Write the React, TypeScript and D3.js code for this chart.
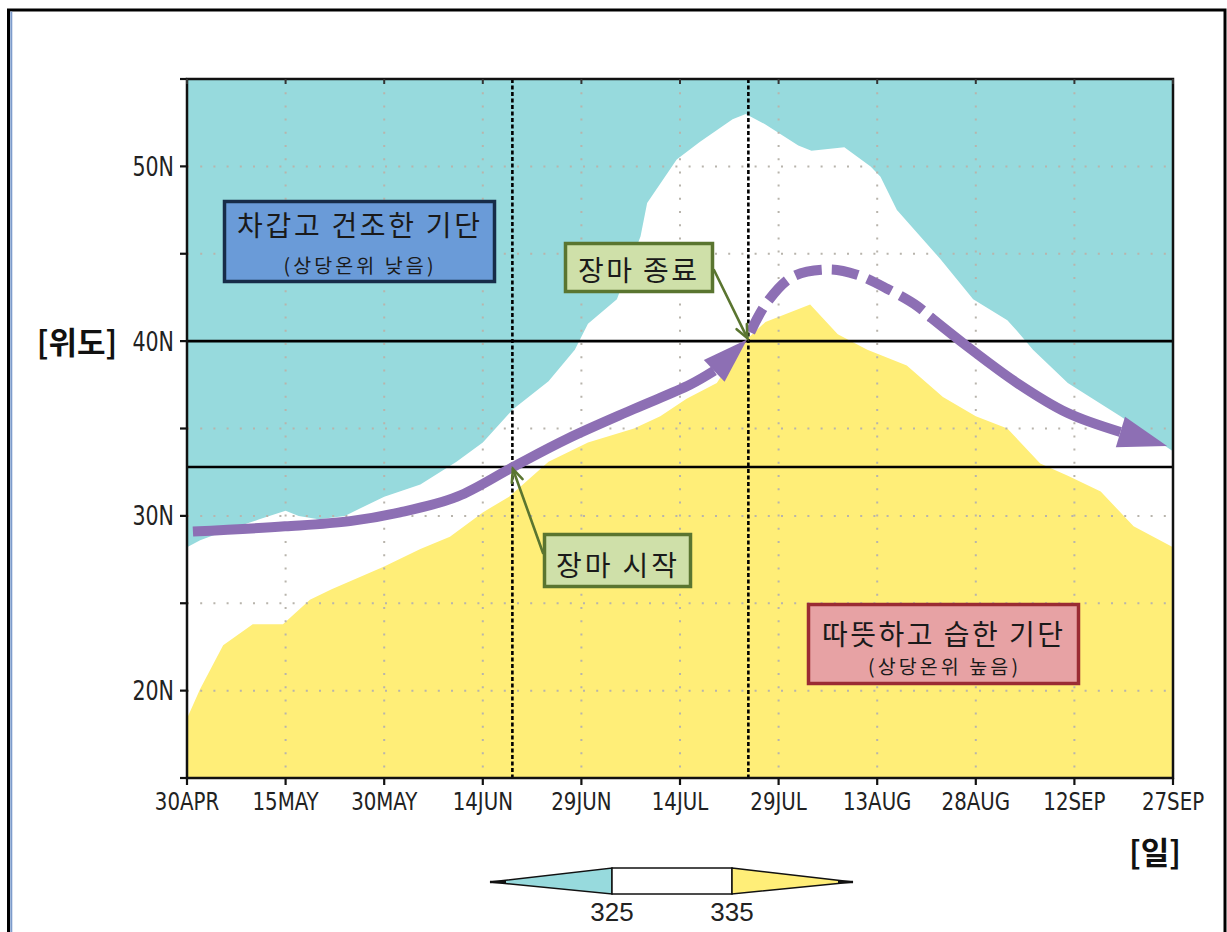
import React from "react";
import * as d3 from "d3";

// ---------- data ----------
const xTickDays = [0, 15, 30, 45, 60, 75, 90, 105, 120, 135, 150];
const xTickLabels = ["30APR", "15MAY", "30MAY", "14JUN", "29JUN", "14JUL", "29JUL", "13AUG", "28AUG", "12SEP", "27SEP"];
const yTickLats = [15, 20, 25, 30, 35, 40, 45, 50, 55];
const yLabelLats = [20, 30, 40, 50];
const yLabels = ["20N", "30N", "40N", "50N"];
const gridLats = [20, 25, 30, 35, 45, 50];

// 325 K contour (boundary between cold-dry and transition zone), days after 30 APR
const contour325Days = [0, 2, 7, 11, 15, 17, 20, 24, 30, 35.5, 41, 45, 49.6, 55, 59, 61, 65.4, 69, 70, 74.5, 78, 83, 85, 88, 93, 95, 100, 104, 105.5, 108, 114.6, 119.6, 124.8, 126.7, 128.7, 134, 142, 150];
const contour325Lats = [28.2, 28.6, 29.3, 29.8, 30.3, 30.0, 29.8, 30.0, 31.1, 31.8, 33.1, 34.2, 36.1, 37.7, 39.5, 41.0, 42.4, 46.0, 47.9, 50.4, 51.4, 52.7, 53.0, 52.4, 51.2, 50.9, 51.1, 50.0, 49.4, 47.5, 44.7, 42.4, 41.2, 40.4, 39.5, 37.6, 35.7, 33.7];

// 335 K contour (boundary of warm-moist air)
const contour335Days = [0, 2, 5.5, 10, 14.6, 18.7, 22, 30, 35.5, 40, 45, 49, 55, 61, 68, 72, 76, 80.6, 84.6, 88, 94.8, 99, 103.5, 109.5, 115, 120, 124.8, 129.8, 134, 139, 144, 150];
const contour335Lats = [18.4, 20.1, 22.6, 23.8, 23.8, 25.2, 25.8, 27.1, 28.1, 28.8, 30.2, 31.1, 33.1, 34.2, 35.0, 35.7, 36.7, 37.6, 39.9, 41.1, 42.1, 40.4, 39.5, 38.6, 36.8, 35.7, 35.0, 33.0, 32.3, 31.4, 29.4, 28.2];

// rain-band track (solid advance, dashed peak, solid retreat); last two points = arrow base, tip
const advanceDays = [0.9, 14.9, 24.8, 32.4, 41.1, 49.6, 57.8, 67.9, 76.5, 80.2, 85.2];
const advanceLats = [29.1, 29.4, 29.7, 30.2, 31.1, 32.8, 34.4, 36.1, 37.5, 38.3, 40.1];
const peakDays = [85.7, 88.2, 92.2, 97.8, 101.9, 106.5, 111.1, 113.3];
const peakLats = [40.5, 42.2, 43.7, 44.1, 43.8, 43.0, 42.0, 41.3];
const retreatDays = [113.0, 118.7, 126.3, 133.9, 142.0, 149.1];
const retreatLats = [41.4, 39.7, 37.6, 35.9, 34.8, 34.0];

const onsetDay = 49.5;
const onsetLat = 32.8;
const endDay = 85.4;
const endLat = 40;

const legendValues = [325, 335];

// ---------- style ----------
const CYAN = "#97dadd";
const YELLOW = "#ffee78";
const PURPLE = "#8d6fb4";
const NARROW = "'Liberation Sans Narrow', 'Arial Narrow', 'DejaVu Sans Condensed', sans-serif";
const KR = "'Noto Sans CJK KR', 'Noto Sans', sans-serif";

const PL = 187, PT = 79, PW = 986, PH = 699;

export default function App() {
  const x = d3.scaleLinear().domain([0, 150]).range([PL, PL + PW]);
  const y = d3.scaleLinear().domain([15, 55]).range([PT + PH, PT]);

  const toPts = (ds: number[], ls: number[]) => ds.map((d, i) => [d, ls[i]] as [number, number]);

  const area = d3.area<[number, number]>()
    .x(d => x(d[0]))
    .y0(y(15))
    .y1(d => y(d[1]))
    .curve(d3.curveLinear);

  const line = d3.line<[number, number]>()
    .x(d => x(d[0]))
    .y(d => y(d[1]))
    .curve(d3.curveCatmullRom.alpha(0.5));

  const advance = toPts(advanceDays, advanceLats);
  const retreat = toPts(retreatDays, retreatLats);
  const peak = toPts(peakDays, peakLats);

  const head = (pts: [number, number][], halfW: number) => {
    const b = pts[pts.length - 2];
    const t = pts[pts.length - 1];
    const bx = x(b[0]), by = y(b[1]), tx = x(t[0]), ty = y(t[1]);
    const dx = tx - bx, dy = ty - by;
    const L = Math.hypot(dx, dy);
    const nx = -dy / L, ny = dx / L;
    return `${bx + nx * halfW},${by + ny * halfW} ${tx},${ty} ${bx - nx * halfW},${by - ny * halfW}`;
  };

  const vArrow = (x1: number, y1: number, x2: number, y2: number) => {
    const ang = Math.atan2(y2 - y1, x2 - x1);
    const len = 14, spread = 0.42;
    const a1 = ang + Math.PI - spread, a2 = ang + Math.PI + spread;
    return (
      <g stroke="#5a7530" strokeWidth={2.6} fill="none" strokeLinecap="round">
        <line x1={x1} y1={y1} x2={x2} y2={y2} />
        <polyline points={`${x2 + len * Math.cos(a1)},${y2 + len * Math.sin(a1)} ${x2},${y2} ${x2 + len * Math.cos(a2)},${y2 + len * Math.sin(a2)}`} />
      </g>
    );
  };

  const gridDotStyle = { stroke: "#b8b4ac", strokeWidth: 2, strokeDasharray: "2 11.2" };

  return (
    <svg width={1227} height={932} style={{ position: "absolute", left: 0, top: 0, background: "#fff" }}>
      {/* outer frame */}
      <rect x={8.5} y={10} width={1216.5} height={940} fill="none" stroke="#000" strokeWidth={3} />
      <line x1={11.3} y1={11.5} x2={11.3} y2={932} stroke="#7d9ccc" strokeWidth={2} />

      <defs>
        <clipPath id="plotClip">
          <rect x={PL} y={PT} width={PW} height={PH} />
        </clipPath>
      </defs>

      <g clipPath="url(#plotClip)">
        <rect x={PL} y={PT} width={PW} height={PH} fill={CYAN} />
        <path d={area(toPts(contour325Days, contour325Lats)) || ""} fill="#fff" />
        <path d={area(toPts(contour335Days, contour335Lats)) || ""} fill={YELLOW} />

        {/* dotted grid */}
        {gridLats.map(l => (
          <line key={"gh" + l} x1={PL} x2={PL + PW} y1={y(l)} y2={y(l)} style={gridDotStyle} />
        ))}
        {xTickDays.slice(1, -1).map(d => (
          <line key={"gv" + d} x1={x(d)} x2={x(d)} y1={PT} y2={PT + PH} style={gridDotStyle} />
        ))}

        {/* onset / end reference lines */}
        <line x1={PL} x2={PL + PW} y1={y(endLat)} y2={y(endLat)} stroke="#000" strokeWidth={2.6} />
        <line x1={PL} x2={PL + PW} y1={y(onsetLat)} y2={y(onsetLat)} stroke="#000" strokeWidth={2.6} />
        <line x1={x(onsetDay)} x2={x(onsetDay)} y1={PT} y2={PT + PH} stroke="#000" strokeWidth={2.6} strokeDasharray="4 2.5" />
        <line x1={x(endDay)} x2={x(endDay)} y1={PT} y2={PT + PH} stroke="#000" strokeWidth={2.6} strokeDasharray="4 2.5" />

        {/* purple track */}
        <path d={line(advance.slice(0, -1)) || ""} fill="none" stroke={PURPLE} strokeWidth={10} />
        <polygon points={head(advance, 15)} fill={PURPLE} />
        <path d={line(peak) || ""} fill="none" stroke={PURPLE} strokeWidth={10} strokeDasharray="27 10" />
        <path d={line(retreat.slice(0, -1)) || ""} fill="none" stroke={PURPLE} strokeWidth={10} />
        <polygon points={head(retreat, 16)} fill={PURPLE} />
      </g>

      {/* plot frame */}
      <rect x={PL} y={PT} width={PW} height={PH} fill="none" stroke="#111" strokeWidth={2.5} />

      {/* ticks */}
      {yTickLats.map(l => (
        <line key={"yt" + l} x1={PL - 7} x2={PL} y1={y(l)} y2={y(l)} stroke="#111" strokeWidth={2.2} />
      ))}
      {xTickDays.map(d => (
        <g key={"xt" + d}>
          <line x1={x(d)} x2={x(d)} y1={PT + PH} y2={PT + PH + 7} stroke="#111" strokeWidth={2.2} />
          <line x1={x(d)} x2={x(d)} y1={PT} y2={PT + 5} stroke="#333" strokeWidth={2} />
        </g>
      ))}
      {yLabelLats.map((l, i) => (
        <text key={"yl" + l} transform={`translate(${PL - 13},${y(l) + 9.5}) scale(0.88,1)`} textAnchor="end" fontFamily={NARROW} fontSize={26} fill="#222">
          {yLabels[i]}
        </text>
      ))}
      {xTickDays.map((d, i) => (
        <text key={"xl" + d} transform={`translate(${x(d)},810) scale(0.88,1)`} textAnchor="middle" fontFamily={NARROW} fontSize={25} fill="#222">
          {xTickLabels[i]}
        </text>
      ))}

      {/* axis titles */}
      <text x={77} y={354} textAnchor="middle" fontFamily={KR} fontWeight={700} fontSize={31} fill="#111">[위도]</text>
      <text x={1155} y={864} textAnchor="middle" fontFamily={KR} fontWeight={700} fontSize={31} fill="#111">[일]</text>

      {/* cold-dry box */}
      <rect x={224.5} y={201.5} width={270} height={80} fill="#6a9bd8" stroke="#172c48" strokeWidth={3.5} />
      <text x={358.5} y={236} textAnchor="middle" fontFamily={KR} fontSize={28} fill="#1a1a1a" textLength={243} lengthAdjust="spacing">차갑고 건조한 기단</text>
      <text x={358.5} y={273} textAnchor="middle" fontFamily={KR} fontSize={19.5} fill="#1a1a1a" textLength={150} lengthAdjust="spacing">(상당온위 낮음)</text>

      {/* warm-moist box */}
      <rect x={808.5} y={604.5} width={270} height={79} fill="#e7a2a4" stroke="#9a2c33" strokeWidth={3.5} />
      <text x={942.5} y={645} textAnchor="middle" fontFamily={KR} fontSize={28} fill="#1a1a1a" textLength={241} lengthAdjust="spacing">따뜻하고 습한 기단</text>
      <text x={943} y={674} textAnchor="middle" fontFamily={KR} fontSize={19.5} fill="#1a1a1a" textLength={150} lengthAdjust="spacing">(상당온위 높음)</text>

      {/* monsoon end label */}
      {vArrow(714, 270, x(endDay) - 1, y(endLat) - 3)}
      <rect x={565.5} y={243.5} width={147} height={48} fill="#cfe0a9" stroke="#5a7530" strokeWidth={3.5} />
      <text x={637.5} y={281} textAnchor="middle" fontFamily={KR} fontSize={28} fill="#1a1a1a" textLength={119} lengthAdjust="spacing">장마 종료</text>

      {/* monsoon onset label */}
      {vArrow(543, 553, x(onsetDay) + 0.5, y(onsetLat) + 2)}
      <rect x={544.5} y={534.5} width={146} height={52} fill="#cfe0a9" stroke="#5a7530" strokeWidth={3.5} />
      <text x={616.5} y={576} textAnchor="middle" fontFamily={KR} fontSize={28} fill="#1a1a1a" textLength={121} lengthAdjust="spacing">장마 시작</text>

      {/* colour bar */}
      <g stroke="#111" strokeWidth={1.5}>
        <polygon points={`490,882 612,868 612,894`} fill={CYAN} />
        <rect x={612} y={868} width={120} height={26} fill="#fff" />
        <polygon points={`732,868 853,882 732,894`} fill={YELLOW} />
      </g>
      <line x1={490} y1={882} x2={506} y2={882} stroke="#111" strokeWidth={2.5} />
      <line x1={838} y1={882} x2={853} y2={882} stroke="#111" strokeWidth={2.5} />
      {legendValues.map((v, i) => (
        <text key={"lv" + v} x={i === 0 ? 612 : 732} y={921} textAnchor="middle" fontFamily="'Liberation Sans', Arial, sans-serif" fontSize={26} fill="#222">{v}</text>
      ))}
    </svg>
  );
}
